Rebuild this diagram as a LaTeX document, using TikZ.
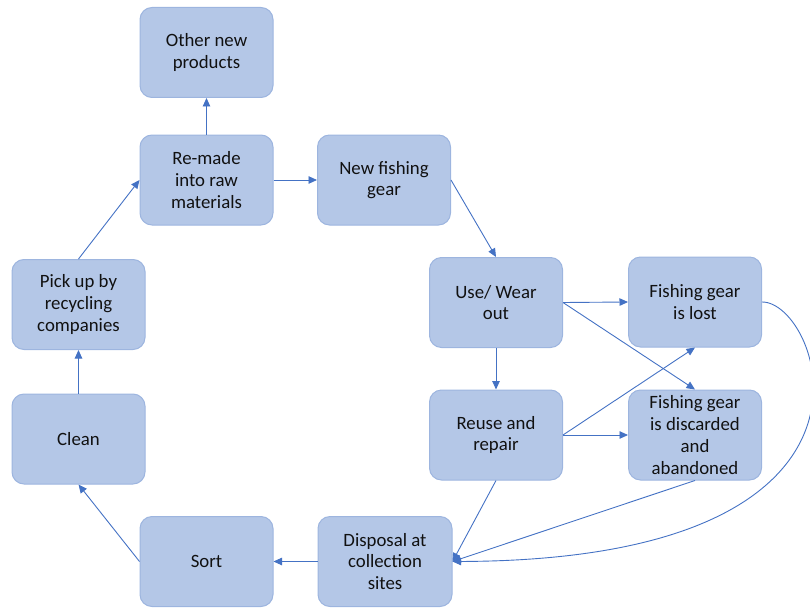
\documentclass[tikz,border=0pt]{standalone}
\usepackage{fontspec}
\setmainfont{Carlito}
\usetikzlibrary{arrows.meta}
\definecolor{boxfill}{HTML}{B4C7E7}
\definecolor{boxline}{HTML}{9DB5DF}
\definecolor{arrowc}{HTML}{4472C4}
\definecolor{txt}{HTML}{111111}
\begin{document}
\begin{tikzpicture}[x=1pt,y=-1pt,
  stepbox/.style={draw=boxline, fill=boxfill, line width=1pt, rounded corners=12pt,
    minimum width=133pt, minimum height=90pt, align=center, inner sep=0pt,
    text=txt, font=\fontsize{18.8}{21.8}\selectfont},
  flow/.style={draw=arrowc, line width=0.9pt, -{Triangle[length=8.5pt,width=7.5pt]}}]
\useasboundingbox (0,0) rectangle (810,607);
\node[stepbox] (other)  at (206.5,52.5) {Other new\\products};
\node[stepbox] (remade) at (206.5,180)  {Re-made\\into raw\\materials};
\node[stepbox] (newg)   at (384,180)    {New fishing\\gear};
\node[stepbox] (use)    at (496,302.5)  {Use/ Wear\\out};
\node[stepbox] (lost)   at (695,302)    {Fishing gear\\is lost};
\node[stepbox] (reuse)  at (496,435)    {Reuse and\\repair};
\node[stepbox] (disc)   at (695,435)    {Fishing gear\\is discarded\\and\\abandoned};
\node[stepbox, minimum width=134pt] (disp) at (385,561.5) {Disposal at\\collection\\sites};
\node[stepbox] (sort)   at (206.5,561.5) {Sort};
\node[stepbox] (clean)  at (78.5,439)   {Clean};
\node[stepbox] (pick)   at (78.5,304.5) {Pick up by\\recycling\\companies};

\draw[flow] (remade.north) -- (other.south);
\draw[flow] (pick.north) -- (remade.west);
\draw[flow] (remade.east) -- (newg.west);
\draw[flow] (newg.east) -- (use.north);
\draw[flow] (use.east) -- (lost.west);
\draw[flow] (use.east) -- (disc.north);
\draw[flow] (use.south) -- (reuse.north);
\draw[flow] (reuse.east) -- (lost.south);
\draw[flow] (reuse.east) -- (disc.west);
\draw[flow] (reuse.south) -- (disp.east);
\draw[flow] (disc.south) -- (disp.east);
\draw[flow] (lost.east) .. controls (820,301) and (920,560) .. (disp.east);
\draw[flow] (disp.west) -- (sort.east);
\draw[flow] (sort.west) -- (clean.south);
\draw[flow] (clean.north) -- (pick.south);
\end{tikzpicture}
\end{document}
